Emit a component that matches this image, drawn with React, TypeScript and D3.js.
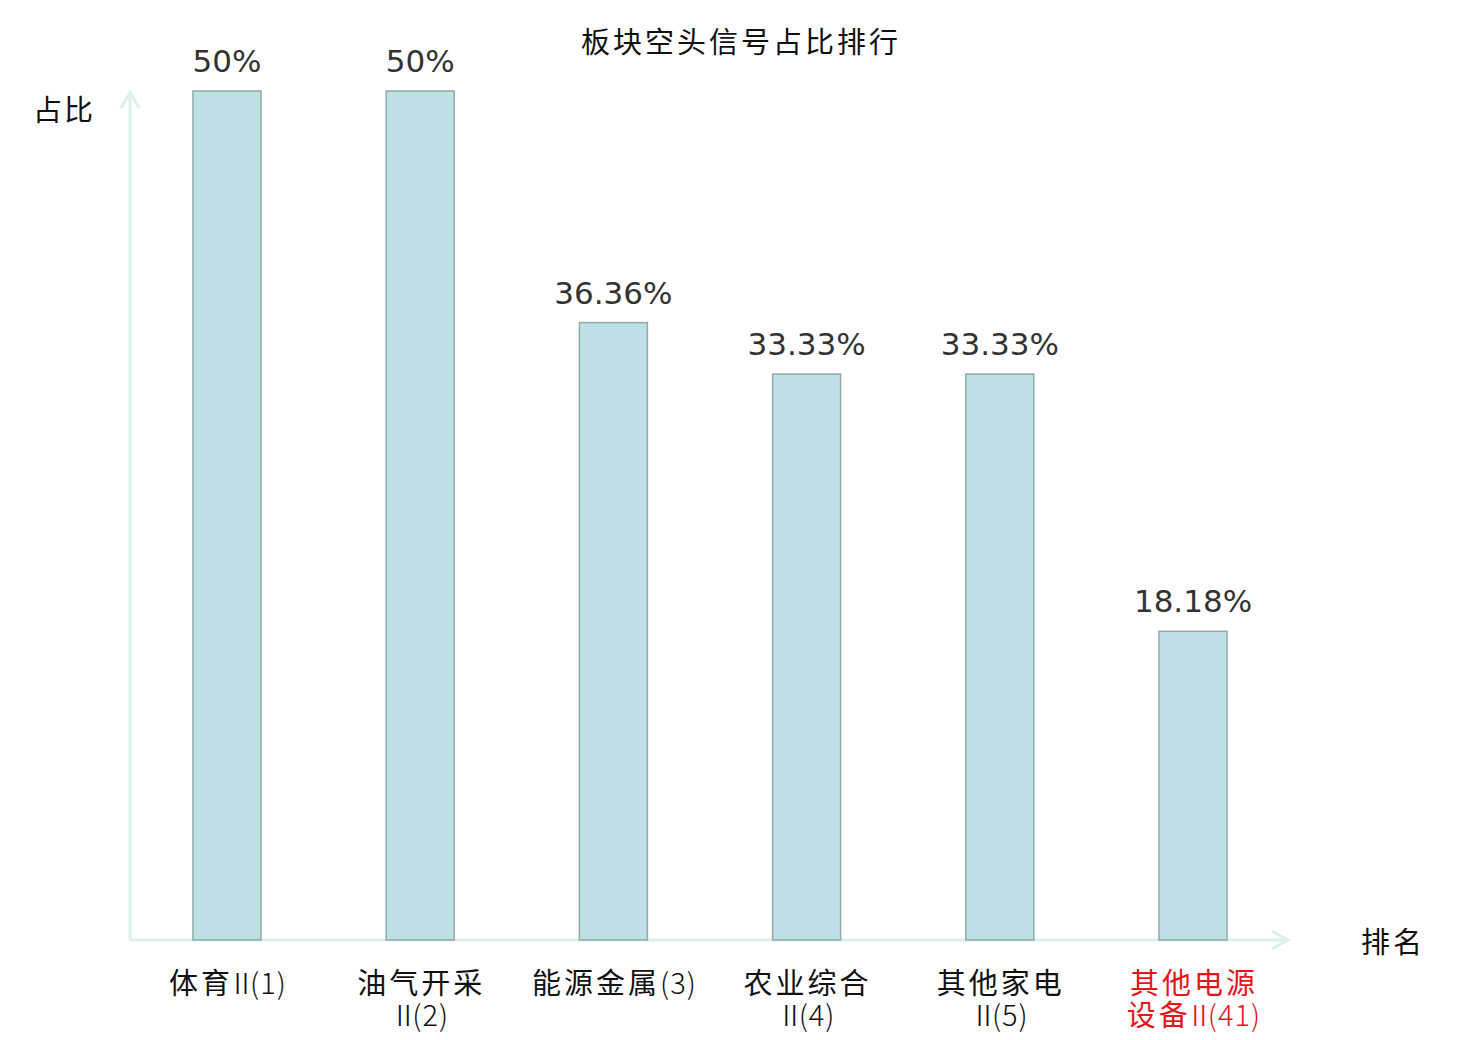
import React from "react";
import * as d3 from "d3";

const title = "板块空头信号占比排行";
const yAxisLabel = "占比";
const xAxisLabel = "排名";
const categories: string[][] = [
  ["体育Ⅱ(1)"],
  ["油气开采", "Ⅱ(2)"],
  ["能源金属(3)"],
  ["农业综合", "Ⅱ(4)"],
  ["其他家电", "Ⅱ(5)"],
  ["其他电源", "设备Ⅱ(41)"],
];
const values = [50, 50, 36.36, 33.33, 33.33, 18.18];
const valueLabels = ["50%", "50%", "36.36%", "33.33%", "33.33%", "18.18%"];
const highlight = [false, false, false, false, false, true];

const W = 1480;
const H = 1040;
const x0 = 130;
const baseY = 940;
const topY = 91;

type Run = { t: string; kind: "cjk" | "roman" | "latin" };
function splitRuns(s: string): Run[] {
  const runs: Run[] = [];
  for (const ch of s) {
    const kind: Run["kind"] = /[\u4e00-\u9fff]/.test(ch) ? "cjk" : ch === "Ⅱ" ? "roman" : "latin";
    const last = runs[runs.length - 1];
    if (last && last.kind === kind) last.t += ch;
    else runs.push({ t: ch, kind });
  }
  return runs;
}

export default function App() {
  const x = d3
    .scaleBand<number>()
    .domain(d3.range(categories.length))
    .range([130, 1290])
    .paddingInner(0.648)
    .paddingOuter(0.326);
  const y = d3.scaleLinear().domain([0, 50]).range([baseY, topY]);
  const axisColor = "#dcf0ed";
  const cjkFont = "'Noto Sans CJK SC', sans-serif";

  return (
    <svg width={W} height={H} style={{ position: "absolute", left: 0, top: 0 }}>
      <rect width={W} height={H} fill="#fff" />
      <text x={741} y={53} textAnchor="middle" fontFamily={cjkFont} fontSize={29} letterSpacing={3} fill="#111">
        {title}
      </text>
      <line x1={x0} y1={baseY} x2={x0} y2={92} stroke={axisColor} strokeWidth={3} />
      <path d={`M${x0 - 9},${108} L${x0},${92} L${x0 + 9},${108}`} fill="none" stroke={axisColor} strokeWidth={3} />
      <line x1={x0} y1={baseY} x2={1288} y2={baseY} stroke={axisColor} strokeWidth={3} />
      <path d={`M1272,${baseY - 9} L1288,${baseY} L1272,${baseY + 9}`} fill="none" stroke={axisColor} strokeWidth={3} />
      <text x={64} y={121} textAnchor="middle" fontFamily={cjkFont} fontSize={29} letterSpacing={2} fill="#111">
        {yAxisLabel}
      </text>
      <text x={1393} y={953} textAnchor="middle" fontFamily={cjkFont} fontSize={29} letterSpacing={3} fill="#111">
        {xAxisLabel}
      </text>
      {values.map((v, i) => {
        const bx = x(i)!;
        const bw = x.bandwidth();
        const cx = bx + bw / 2;
        return (
          <g key={i}>
            <rect x={bx} y={y(v)} width={bw} height={baseY - y(v)} fill="#bce0e3" stroke="#8fa9aa" strokeWidth={1.5} />
            <text x={cx} y={y(v) - 19} textAnchor="middle" fontFamily="'DejaVu Sans', sans-serif" fontSize={31} fill="#333">
              {valueLabels[i]}
            </text>
            {categories[i].map((line, li) => {
              const runs = splitRuns(line);
              return (
                <text
                  key={li}
                  x={cx + 1}
                  y={994 + li * 32}
                  textAnchor="middle"
                  fontFamily={cjkFont}
                  fontSize={29}
                  fill={highlight[i] ? "#e8141b" : "#111"}
                >
                  {runs.map((r, ri) => (
                    <tspan
                      key={ri}
                      fontWeight={r.kind === "cjk" ? 400 : 300}
                      letterSpacing={r.kind === "roman" ? -6 : r.kind === "cjk" ? 3 : 1}
                      dx={r.kind === "roman" ? (ri > 0 ? -6 : -2) : 0}
                    >
                      {r.t}
                    </tspan>
                  ))}
                </text>
              );
            })}
          </g>
        );
      })}
    </svg>
  );
}
